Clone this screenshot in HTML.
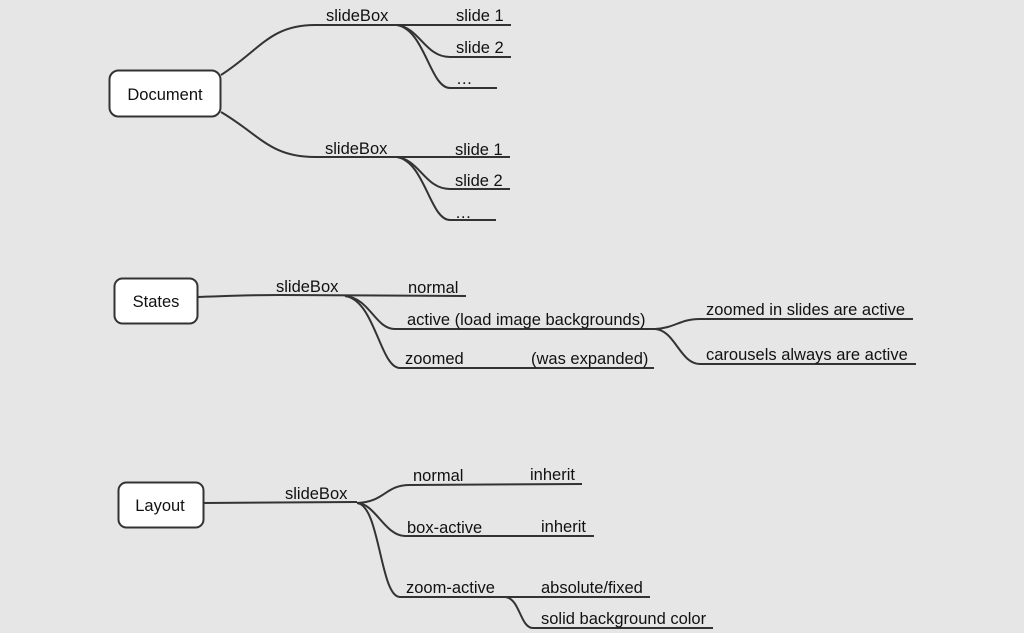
<!DOCTYPE html>
<html><head><meta charset="utf-8"><style>
html,body{margin:0;padding:0;background:#e6e6e6;}
svg{display:block;}
text{font-family:"Liberation Sans",sans-serif;font-size:16.5px;fill:#111;}
</style></head><body>
<svg width="1024" height="633" viewBox="0 0 1024 633">
<rect width="1024" height="633" fill="#e6e6e6"/>
<g fill="none" stroke="#333" stroke-width="2">
<rect x="109.5" y="70.5" width="111" height="46" rx="9" fill="#fff"/>
<path d="M221,75 C260,50 270,25 315,25 L511,25"/>
<path d="M397,25 C420,28 425,57 450,57 L511,57"/>
<path d="M397,25 C425,30 430,88 450,88 L497,88"/>
<path d="M221,112 C260,135 270,157 315,157 L510,157"/>
<path d="M397,157 C420,160 425,189 450,189 L510,189"/>
<path d="M397,157 C425,162 430,220 450,220 L496,220"/>
<rect x="114.5" y="278.5" width="83" height="45" rx="8" fill="#fff"/>
<path d="M197,297 C230,296 250,295 280,295 L466,296"/>
<path d="M345,296 C370,298 375,329 395,329 L657,329"/>
<path d="M345,296 C375,300 380,368 400,368 L654,368"/>
<path d="M655,329 C675,328 680,319 700,319 L913,319"/>
<path d="M655,329 C675,330 680,364 700,364 L916,364"/>
<rect x="118.5" y="482.5" width="85" height="45" rx="8" fill="#fff"/>
<path d="M203,503 L357,502"/>
<path d="M357,503 C385,502 385,485 410,485 L582,484"/>
<path d="M357,503 C375,503 385,536 405,536 L594,536"/>
<path d="M357,503 C380,505 380,597 400,597 L650,597"/>
<path d="M505,597 C520,598 520,628 533,628 L713,628"/>
</g>
<text x="326" y="21">slideBox</text>
<text x="456" y="21">slide 1</text>
<text x="456" y="53">slide 2</text>
<text x="456" y="84">…</text>
<text x="325" y="154">slideBox</text>
<text x="455" y="155">slide 1</text>
<text x="455" y="186">slide 2</text>
<text x="455" y="218">…</text>
<text x="165" y="100" text-anchor="middle">Document</text>

<text x="156" y="307" text-anchor="middle">States</text>
<text x="276" y="292">slideBox</text>
<text x="408" y="293">normal</text>
<text x="407" y="325">active (load image backgrounds)</text>
<text x="405" y="364">zoomed</text>
<text x="531" y="364">(was expanded)</text>
<text x="706" y="315">zoomed in slides are active</text>
<text x="706" y="360">carousels always are active</text>

<text x="160" y="511" text-anchor="middle">Layout</text>
<text x="285" y="499">slideBox</text>
<text x="413" y="481">normal</text>
<text x="530" y="480">inherit</text>
<text x="407" y="533">box-active</text>
<text x="541" y="532">inherit</text>
<text x="406" y="593">zoom-active</text>
<text x="541" y="593">absolute/fixed</text>
<text x="541" y="624">solid background color</text>
</svg>
</body></html>
